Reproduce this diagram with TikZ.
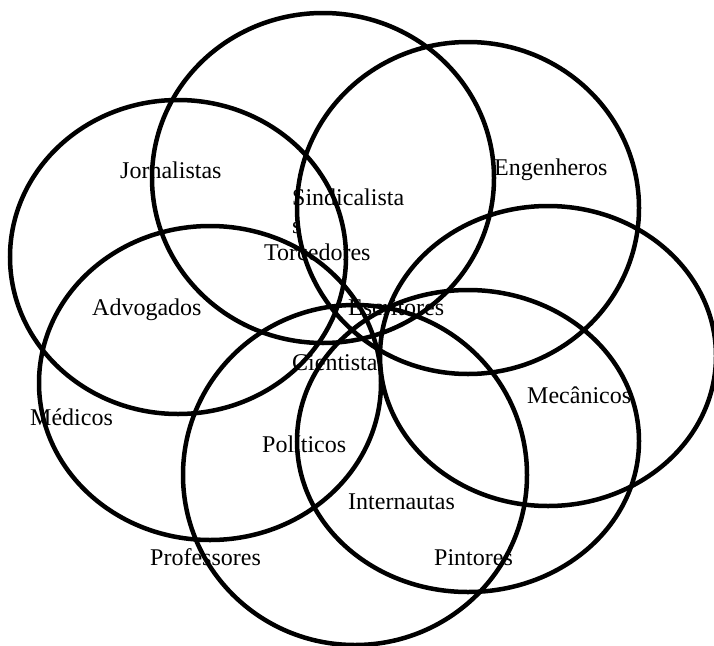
\documentclass[tikz,border=0pt]{standalone}
\usepackage{fontspec}
\setmainfont{Liberation Serif}
\begin{document}
\begin{tikzpicture}[x=1pt,y=-1pt,
  ring/.style={line width=4.5pt},
  lbl/.style={anchor=base west,inner sep=0pt,font=\fontsize{24}{28}\selectfont}]
\useasboundingbox (0,0) rectangle (714,645);
% the seven sets
\draw[ring] (178,257) ellipse [x radius=168pt,y radius=157pt];
\draw[ring] (323,178) ellipse [x radius=171pt,y radius=165pt];
\draw[ring] (468,208) ellipse [x radius=171pt,y radius=166pt];
\draw[ring] (548,356) ellipse [x radius=168pt,y radius=150pt];
\draw[ring] (468,441) ellipse [x radius=171pt,y radius=151pt];
\draw[ring] (355,475) ellipse [x radius=172pt,y radius=170pt];
\draw[ring] (210,383) ellipse [x radius=171pt,y radius=157pt];
% labels
\node[lbl] (jorn) at (120,178) {Jornalistas};
\node[lbl] (eng) at (494,175) {Engenheros};
\node[lbl,align=left] (sind) at (292,233) {Sindicalista\\s};
\node[lbl] (torc) at (264,260) {Torcedores};
\node[lbl] (adv) at (92,315) {Advogados};
\node[lbl] (escr) at (348,315) {Escritores};
\node[lbl] (cient) at (292,370) {Cientista};
\node[lbl] (mec) at (527,403) {Mecânicos};
\node[lbl] (med) at (30,425) {Médicos};
\node[lbl] (pol) at (262,452) {Políticos};
\node[lbl] (int) at (348,509) {Internautas};
\node[lbl] (prof) at (150,565) {Professores};
\node[lbl] (pint) at (434,565) {Pintores};
\end{tikzpicture}
\end{document}
